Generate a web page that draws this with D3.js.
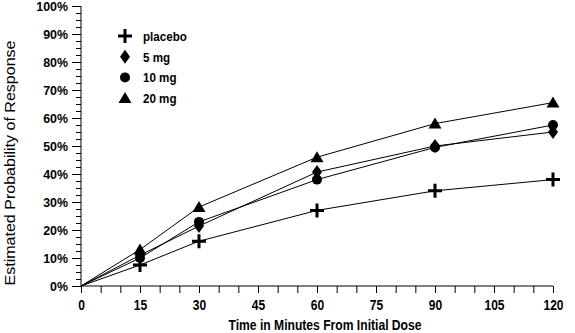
<!DOCTYPE html>
<html>
<head>
<meta charset="utf-8">
<script src="https://cdn.jsdelivr.net/npm/d3@7"></script>
<style>
  body { margin: 0; background: #fff; }
  svg text { font-family: "Liberation Sans Narrow", "Arial Narrow", "Liberation Sans", Arial, sans-serif; font-weight: bold; fill: #000; }
</style>
</head>
<body>
<svg id="chart" width="575" height="333"></svg>
<script>
// Time points (minutes) and estimated response probabilities (%)
const minutes = [0, 15, 30, 60, 90, 120];
const placebo = [0, 7.5, 16, 27, 34, 38];
const mg5     = [0, 11, 21.4, 40.7, 50, 55];
const mg10    = [0, 10, 22.9, 38, 49.5, 57.5];
const mg20    = [0, 13, 28.2, 46, 58, 65.5];

const seriesNames = ["placebo", "5 mg", "10 mg", "20 mg"];
const seriesSymbols = ["plus", "diamond", "circle", "triangle"];
const xTicks = [0, 15, 30, 45, 60, 75, 90, 105, 120];
const yTicks = [0, 10, 20, 30, 40, 50, 60, 70, 80, 90, 100];

const seriesData = [placebo, mg5, mg10, mg20];

// horizontal squeeze for the condensed label lettering
const SQ = 0.86;

const svg = d3.select("#chart");
const x = d3.scaleLinear().domain([0, 120]).range([81, 553]);
const y = d3.scaleLinear().domain([0, 100]).range([286, 6]);

// X axis: ticks every 5 minutes, labels every 15
const xAxis = d3.axisBottom(x)
  .tickValues(d3.range(0, 121, 5))
  .tickSize(7)
  .tickFormat(d => xTicks.includes(d) ? d : "");
const gx = svg.append("g").attr("transform", `translate(0,${y(0)})`).call(xAxis);
gx.select(".domain").attr("d", `M${x(0)},0H${x(120)}`).attr("stroke", "#000");
gx.selectAll("text")
  .attr("font-size", 14)
  .attr("y", 14)
  .attr("dy", "0.71em")
  .attr("transform", `scale(${SQ},1)`);

// Y axis: major ticks every 10%, minor every 2.5%
const yAxis = d3.axisLeft(y)
  .tickValues(d3.range(0, 100.1, 2.5))
  .tickSize(0)
  .tickFormat("");
const gy = svg.append("g").attr("transform", `translate(${x(0)},0)`).call(yAxis);
gy.select(".domain").attr("d", `M0,${y(0)}V${y(100)}`).attr("stroke", "#000");
gy.selectAll(".tick line")
  .attr("x2", d => (d % 10 === 0 ? -9 : -5))
  .attr("stroke", "#000");
gy.selectAll(".tick")
  .filter(d => yTicks.includes(d))
  .append("text")
  .attr("x", -13 / 0.92)
  .attr("dy", "0.36em")
  .attr("text-anchor", "end")
  .attr("font-size", 13.5)
  .attr("transform", "scale(0.92,1)")
  .text(d => d + "%");

// Axis titles
svg.append("text")
  .attr("x", 325).attr("y", 330)
  .attr("text-anchor", "middle")
  .attr("font-size", 14)
  .attr("textLength", 193)
  .attr("lengthAdjust", "spacingAndGlyphs")
  .text("Time in Minutes From Initial Dose");
svg.append("text")
  .attr("transform", `translate(15,163) rotate(-90)`)
  .attr("text-anchor", "middle")
  .attr("font-size", 14.5)
  .style("font-weight", "normal")
  .attr("textLength", 245)
  .attr("lengthAdjust", "spacingAndGlyphs")
  .text("Estimated Probability of Response");

// Marker drawing
function drawMarker(g, type) {
  if (type === "plus") {
    g.append("path").attr("d", "M-7,0H7M0,-7V7").attr("stroke", "#000").attr("stroke-width", 3).attr("fill", "none");
  } else if (type === "diamond") {
    g.append("path").attr("d", "M0,-7L5,0L0,7L-5,0Z").attr("fill", "#000");
  } else if (type === "circle") {
    g.append("circle").attr("r", 5).attr("fill", "#000");
  } else {
    g.append("path").attr("d", "M0,-6L6.5,5L-6.5,5Z").attr("fill", "#000");
  }
}

const line = d3.line().x((d, i) => x(minutes[i])).y(d => y(d));

seriesData.forEach(vals => {
  svg.append("path")
    .datum(vals)
    .attr("d", line)
    .attr("fill", "none")
    .attr("stroke", "#000")
    .attr("stroke-width", 1);
});

seriesData.forEach((vals, s) => {
  vals.forEach((v, i) => {
    if (i === 0) return;
    const g = svg.append("g").attr("transform", `translate(${x(minutes[i])},${y(v)})`);
    drawMarker(g, seriesSymbols[s]);
  });
});

// Legend
const legend = svg.append("g");
seriesNames.forEach((name, i) => {
  const row = legend.append("g").attr("transform", `translate(125,${36 + i * 20.7})`);
  drawMarker(row, seriesSymbols[i]);
  row.append("text")
    .attr("x", 18 / SQ)
    .attr("dy", "0.36em")
    .attr("font-size", 13.5)
    .attr("transform", `scale(${SQ},1)`)
    .text(name);
});
</script>
</body>
</html>
